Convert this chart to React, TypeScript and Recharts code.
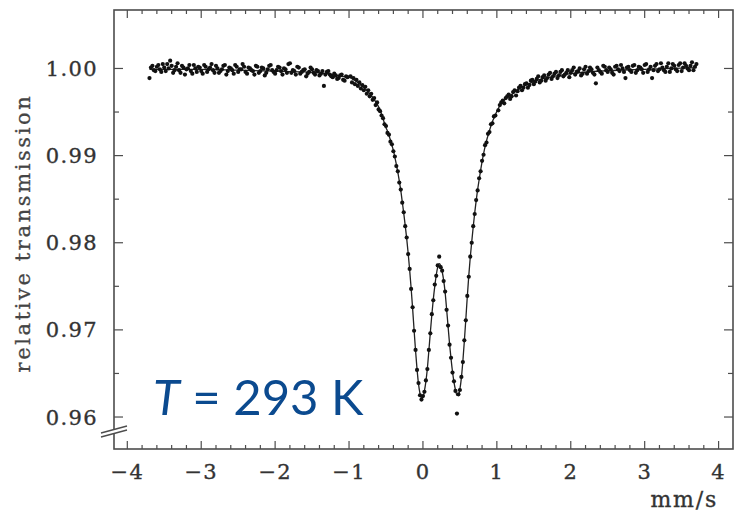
import { ComposedChart, Line, Scatter, XAxis, YAxis } from "recharts";

// Mössbauer doublet, T = 293 K — velocity (mm/s) vs relative transmission

const wingLeft: [number, number][] = [
  [-3.70, 0.9989], [-3.66, 1.0003], [-3.62, 0.9997], [-3.58, 1.0004], [-3.54, 0.9996], [-3.50, 1.0001],
  [-3.46, 1.0005], [-3.42, 1.0009], [-3.38, 0.9995], [-3.34, 1.0002], [-3.30, 0.9998], [-3.26, 1.0003],
  [-3.22, 0.9993], [-3.18, 1.0000], [-3.14, 0.9997], [-3.10, 1.0004], [-3.06, 0.9996], [-3.02, 1.0001],
  [-2.98, 0.9994], [-2.94, 1.0002], [-2.90, 0.9999], [-2.86, 1.0005], [-2.82, 0.9995], [-2.78, 1.0000],
  [-2.74, 0.9997], [-2.70, 1.0003], [-2.66, 0.9993], [-2.62, 1.0001], [-2.58, 0.9998], [-2.54, 1.0004],
  [-2.50, 0.9996], [-2.46, 0.9999], [-2.42, 1.0002], [-2.38, 0.9994], [-2.34, 1.0000], [-2.30, 0.9997],
  [-2.26, 1.0003], [-2.22, 0.9995], [-2.18, 1.0001], [-2.14, 0.9992], [-2.10, 0.9999], [-2.06, 1.0004],
  [-2.02, 0.9996], [-1.98, 0.9998], [-1.94, 1.0001], [-1.90, 0.9993], [-1.86, 0.9999], [-1.82, 1.0005],
  [-1.78, 0.9995], [-1.74, 0.9997], [-1.70, 1.0002], [-1.66, 0.9994], [-1.62, 0.9998], [-1.58, 0.9991],
  [-1.54, 0.9996], [-1.50, 0.9999], [-1.46, 0.9993], [-1.42, 0.9997], [-1.38, 0.9994], [-1.34, 0.9980],
  [-1.30, 0.9996], [-1.26, 0.9993], [-1.22, 0.9990], [-1.18, 0.9992], [-1.14, 0.9989], [-1.10, 0.9993],
  [-1.06, 0.9986], [-1.02, 0.9990],
];

// second half of the channels on the left wing
const wingLeftB: [number, number][] = [
  [-3.68, 1.0001], [-3.64, 0.9998], [-3.60, 1.0002], [-3.56, 0.9999], [-3.52, 1.0005], [-3.48, 0.9997],
  [-3.44, 1.0000], [-3.40, 1.0003], [-3.36, 0.9998], [-3.32, 1.0006], [-3.28, 0.9995], [-3.24, 1.0001],
  [-3.20, 0.9999], [-3.16, 1.0004], [-3.12, 0.9994], [-3.08, 1.0000], [-3.04, 1.0002], [-3.00, 0.9997],
  [-2.96, 1.0004], [-2.92, 0.9996], [-2.88, 1.0001], [-2.84, 0.9998], [-2.80, 1.0003], [-2.76, 0.9995],
  [-2.72, 0.9999], [-2.68, 1.0004], [-2.64, 0.9997], [-2.60, 1.0000], [-2.56, 0.9994], [-2.52, 1.0002],
  [-2.48, 0.9999], [-2.44, 1.0005], [-2.40, 0.9996], [-2.36, 1.0001], [-2.32, 0.9998], [-2.28, 0.9993],
  [-2.24, 1.0002], [-2.20, 0.9997], [-2.16, 1.0000], [-2.12, 0.9995], [-2.08, 1.0003], [-2.04, 0.9998],
  [-2.00, 0.9994], [-1.96, 1.0002], [-1.92, 0.9997], [-1.88, 1.0000], [-1.84, 0.9995], [-1.80, 1.0006],
  [-1.76, 0.9998], [-1.72, 0.9993], [-1.68, 1.0001], [-1.64, 0.9996], [-1.60, 0.9999], [-1.56, 0.9994],
  [-1.52, 1.0001], [-1.48, 0.9995], [-1.44, 0.9998], [-1.40, 0.9992], [-1.36, 0.9997], [-1.32, 0.9993],
  [-1.28, 0.9997], [-1.24, 0.9991], [-1.20, 0.9994], [-1.16, 0.9988], [-1.12, 0.9992], [-1.08, 0.9987],
  [-1.04, 0.9991],
];

const dipPoints: [number, number][] = [
  [-0.98, 0.9991], [-0.96, 0.9984], [-0.94, 0.9989], [-0.92, 0.9982], [-0.90, 0.9987], [-0.88, 0.9980],
  [-0.86, 0.9984], [-0.84, 0.9977], [-0.82, 0.9981], [-0.80, 0.9975], [-0.78, 0.9979], [-0.76, 0.9971],
  [-0.74, 0.9975], [-0.72, 0.9968], [-0.70, 0.9971], [-0.68, 0.9964], [-0.66, 0.9966], [-0.64, 0.9958],
  [-0.62, 0.9961], [-0.60, 0.9953], [-0.58, 0.9951], [-0.56, 0.9946], [-0.54, 0.9943], [-0.52, 0.9936],
  [-0.50, 0.9934], [-0.48, 0.9926], [-0.46, 0.9924], [-0.44, 0.9916], [-0.42, 0.9913], [-0.40, 0.9905],
  [-0.38, 0.9899], [-0.36, 0.9888], [-0.34, 0.9882], [-0.32, 0.9869], [-0.30, 0.9861], [-0.28, 0.9846],
  [-0.26, 0.9835], [-0.24, 0.9819], [-0.22, 0.9806], [-0.20, 0.9787], [-0.18, 0.9770], [-0.16, 0.9747],
  [-0.14, 0.9726], [-0.12, 0.9699], [-0.10, 0.9677], [-0.08, 0.9654], [-0.06, 0.9639], [-0.04, 0.9625],
  [-0.02, 0.9620], [0.00, 0.9624], [0.02, 0.9629], [0.04, 0.9642], [0.06, 0.9655], [0.08, 0.9677],
  [0.10, 0.9696], [0.12, 0.9718], [0.14, 0.9734], [0.16, 0.9752], [0.18, 0.9762], [0.20, 0.9774],
  [0.22, 0.9784], [0.24, 0.9772], [0.26, 0.9768], [0.28, 0.9756], [0.30, 0.9744], [0.32, 0.9723],
  [0.34, 0.9705], [0.36, 0.9683], [0.38, 0.9668], [0.40, 0.9651], [0.42, 0.9641], [0.44, 0.9630],
  [0.46, 0.9604], [0.48, 0.9626], [0.50, 0.9631], [0.52, 0.9646], [0.54, 0.9663], [0.56, 0.9688],
  [0.58, 0.9711], [0.60, 0.9739], [0.62, 0.9761], [0.64, 0.9784], [0.66, 0.9800], [0.68, 0.9819],
  [0.70, 0.9833], [0.72, 0.9849], [0.74, 0.9860], [0.76, 0.9874], [0.78, 0.9882], [0.80, 0.9894],
  [0.82, 0.9901], [0.84, 0.9912], [0.86, 0.9915], [0.88, 0.9925], [0.90, 0.9927], [0.92, 0.9936],
  [0.94, 0.9937], [0.96, 0.9945], [0.98, 0.9946],
];

const wingRight: [number, number][] = [
  [1.02, 0.9952], [1.06, 0.9961], [1.10, 0.9960], [1.14, 0.9968], [1.18, 0.9965], [1.22, 0.9973],
  [1.26, 0.9969], [1.30, 0.9978], [1.34, 0.9975], [1.38, 0.9982], [1.42, 0.9978], [1.46, 0.9986],
  [1.50, 0.9982], [1.54, 0.9988], [1.58, 0.9984], [1.62, 0.9990], [1.66, 0.9986], [1.70, 0.9993],
  [1.74, 0.9988], [1.78, 0.9994], [1.82, 0.9989], [1.86, 0.9996], [1.90, 0.9991], [1.94, 0.9995],
  [1.98, 0.9990], [2.02, 0.9998], [2.06, 0.9993], [2.10, 0.9997], [2.14, 0.9992], [2.18, 0.9999],
  [2.22, 0.9994], [2.26, 1.0001], [2.30, 0.9995], [2.34, 0.9983], [2.38, 0.9998], [2.42, 0.9994],
  [2.46, 1.0002], [2.50, 0.9996], [2.54, 0.9999], [2.58, 0.9993], [2.62, 1.0003], [2.66, 0.9997],
  [2.70, 1.0000], [2.74, 0.9989], [2.78, 1.0002], [2.82, 0.9996], [2.86, 1.0004], [2.90, 0.9998],
  [2.94, 1.0001], [2.98, 0.9995], [3.02, 1.0005], [3.06, 0.9999], [3.10, 0.9989], [3.14, 1.0003],
  [3.18, 0.9997], [3.22, 1.0006], [3.26, 0.9998], [3.30, 1.0002], [3.34, 0.9996], [3.38, 1.0005],
  [3.42, 0.9999], [3.46, 1.0004], [3.50, 0.9997], [3.54, 1.0006], [3.58, 1.0000], [3.62, 1.0003],
  [3.66, 0.9998], [3.70, 1.0005],
];

// second half of the channels on the right wing
const wingRightB: [number, number][] = [
  [1.04, 0.9958], [1.08, 0.9963], [1.12, 0.9966], [1.16, 0.9970], [1.20, 0.9968], [1.24, 0.9975],
  [1.28, 0.9974], [1.32, 0.9980], [1.36, 0.9978], [1.40, 0.9983], [1.44, 0.9981], [1.48, 0.9987],
  [1.52, 0.9985], [1.56, 0.9991], [1.60, 0.9986], [1.64, 0.9992], [1.68, 0.9989], [1.72, 0.9995],
  [1.76, 0.9991], [1.80, 0.9996], [1.84, 0.9992], [1.88, 0.9998], [1.92, 0.9993], [1.96, 0.9998],
  [2.00, 0.9995], [2.04, 1.0001], [2.08, 0.9996], [2.12, 1.0000], [2.16, 0.9994], [2.20, 1.0002],
  [2.24, 0.9997], [2.28, 0.9999], [2.32, 0.9993], [2.36, 1.0001], [2.40, 0.9996], [2.44, 1.0003],
  [2.48, 0.9998], [2.52, 1.0001], [2.56, 0.9995], [2.60, 1.0002], [2.64, 0.9999], [2.68, 1.0004],
  [2.72, 0.9996], [2.76, 1.0001], [2.80, 0.9998], [2.84, 1.0003], [2.88, 0.9995], [2.92, 1.0002],
  [2.96, 0.9999], [3.00, 1.0004], [3.04, 0.9996], [3.08, 1.0002], [3.12, 0.9998], [3.16, 1.0005],
  [3.20, 0.9999], [3.24, 1.0001], [3.28, 0.9996], [3.32, 1.0006], [3.36, 1.0000], [3.40, 1.0003],
  [3.44, 0.9997], [3.48, 1.0006], [3.52, 1.0001], [3.56, 1.0003], [3.60, 0.9998], [3.64, 1.0007],
  [3.68, 1.0002],
];

const fitCurve: [number, number][] = [
  [-3.70, 0.9999], [-3.00, 0.9999], [-2.50, 0.9998], [-2.00, 0.9997], [-1.60, 0.9996], [-1.30, 0.9994],
  [-1.10, 0.9991], [-1.00, 0.9990], [-0.95, 0.9988], [-0.90, 0.9985], [-0.85, 0.9982], [-0.80, 0.9978],
  [-0.75, 0.9974], [-0.70, 0.9969], [-0.65, 0.9963], [-0.60, 0.9956], [-0.55, 0.9945], [-0.50, 0.9932],
  [-0.48, 0.9928], [-0.46, 0.9923], [-0.44, 0.9918], [-0.42, 0.9912], [-0.40, 0.9906], [-0.38, 0.9898],
  [-0.36, 0.9890], [-0.34, 0.9881], [-0.32, 0.9871], [-0.30, 0.9860], [-0.28, 0.9847], [-0.26, 0.9834],
  [-0.24, 0.9820], [-0.22, 0.9805], [-0.20, 0.9788], [-0.18, 0.9769], [-0.16, 0.9748], [-0.14, 0.9725],
  [-0.12, 0.9700], [-0.10, 0.9676], [-0.08, 0.9655], [-0.06, 0.9638], [-0.04, 0.9627], [-0.02, 0.9622],
  [0.00, 0.9623], [0.02, 0.9630], [0.04, 0.9641], [0.06, 0.9656], [0.08, 0.9676], [0.10, 0.9697],
  [0.12, 0.9717], [0.14, 0.9735], [0.16, 0.9750], [0.18, 0.9763], [0.20, 0.9772], [0.22, 0.9776],
  [0.24, 0.9774], [0.26, 0.9767], [0.28, 0.9757], [0.30, 0.9743], [0.32, 0.9724], [0.34, 0.9704],
  [0.36, 0.9684], [0.38, 0.9667], [0.40, 0.9652], [0.42, 0.9640], [0.44, 0.9631], [0.46, 0.9625],
  [0.48, 0.9625], [0.50, 0.9632], [0.52, 0.9645], [0.54, 0.9664], [0.56, 0.9687], [0.58, 0.9712],
  [0.60, 0.9738], [0.62, 0.9762], [0.64, 0.9783], [0.66, 0.9801], [0.68, 0.9818], [0.70, 0.9834],
  [0.72, 0.9848], [0.74, 0.9861], [0.76, 0.9872], [0.78, 0.9883], [0.80, 0.9893], [0.82, 0.9902],
  [0.84, 0.9910], [0.86, 0.9917], [0.88, 0.9923], [0.90, 0.9929], [0.92, 0.9934], [0.94, 0.9939],
  [0.96, 0.9943], [0.98, 0.9947], [1.00, 0.9951], [1.08, 0.9962], [1.20, 0.9970], [1.31, 0.9977],
  [1.50, 0.9985], [1.72, 0.9990], [2.00, 0.9994], [2.40, 0.9997], [3.00, 0.9999], [3.70, 1.0001],
];

const xTicks = [
  -4, -3.8, -3.6, -3.4, -3.2, -3, -2.8, -2.6, -2.4, -2.2, -2, -1.8, -1.6, -1.4, -1.2, -1, -0.8, -0.6, -0.4, -0.2,
  0, 0.2, 0.4, 0.6, 0.8, 1, 1.2, 1.4, 1.6, 1.8, 2, 2.2, 2.4, 2.6, 2.8, 3, 3.2, 3.4, 3.6, 3.8, 4,
];
const yTicks = [0.96, 0.965, 0.97, 0.975, 0.98, 0.985, 0.99, 0.995, 1.0];

const PLOT_W = 619;
const PLOT_H = 439;
const AXIS = "#4d4d4d";
const SERIF = "'DejaVu Serif', serif";
const INK = "#333";

const toRows = (arr: [number, number][]) => arr.map(([v, t]) => ({ v, t }));
const points = toRows([...wingLeft, ...wingLeftB, ...dipPoints, ...wingRight, ...wingRightB]);
const fit = toRows(fitCurve);

function XTick({ x, y, payload }: any) {
  const v = payload.value as number;
  const major = Number.isInteger(v);
  const len = major ? 8 : 4;
  return (
    <g>
      <line x1={x} y1={y} x2={x} y2={y - len} stroke={AXIS} strokeWidth={1.2} />
      <line x1={x} y1={y - PLOT_H} x2={x} y2={y - PLOT_H + len} stroke={AXIS} strokeWidth={1.2} />
      {major && (
        <text x={x} y={y + 30} textAnchor="middle" fontFamily={SERIF} fontSize={21} fill={INK}
          stroke={INK} strokeWidth={0.35} letterSpacing={1.2}>
          {v < 0 ? `\u2212${-v}` : `${v}`}
        </text>
      )}
    </g>
  );
}

function YTick({ x, y, payload }: any) {
  const v = payload.value as number;
  const major = Math.abs(v * 100 - Math.round(v * 100)) < 1e-6;
  const len = major ? 9 : 5;
  return (
    <g>
      <line x1={x} y1={y} x2={x + len} y2={y} stroke={AXIS} strokeWidth={1.2} />
      <line x1={x + PLOT_W} y1={y} x2={x + PLOT_W - len} y2={y} stroke={AXIS} strokeWidth={1.2} />
      {major && (
        <text x={x - 16} y={y + 7.5} textAnchor="end" fontFamily={SERIF} fontSize={21} fill={INK}
          stroke={INK} strokeWidth={0.35} letterSpacing={1.4}>
          {v.toFixed(2)}
        </text>
      )}
    </g>
  );
}

const Dot = (props: any) => <circle cx={props.cx} cy={props.cy} r={2.1} fill="#111" />;

export default function App() {
  return (
    <div style={{ position: "absolute", left: 0, top: 0, width: 736, height: 517, background: "#fff" }}>
      <ComposedChart width={736} height={517} margin={{ top: 10, right: 3, bottom: 0, left: 0 }}>
        <XAxis
          type="number"
          dataKey="v"
          domain={[-4.18, 4.195]}
          ticks={xTicks}
          interval={0}
          allowDataOverflow
          height={68}
          tickSize={0}
          tickMargin={0}
          axisLine={false}
          tickLine={false}
          tick={<XTick />}
        />
        <YAxis
          type="number"
          domain={[0.95633, 1.00671]}
          ticks={yTicks}
          interval={0}
          allowDataOverflow
          width={114}
          tickSize={0}
          tickMargin={0}
          axisLine={false}
          tickLine={false}
          tick={<YTick />}
        />
        <Line data={fit} dataKey="t" type="monotone" stroke="#222" strokeWidth={1.3} dot={false} isAnimationActive={false} />
        <Scatter data={points} dataKey="t" shape={Dot} isAnimationActive={false} />
      </ComposedChart>

      <svg width={736} height={517} style={{ position: "absolute", left: 0, top: 0, pointerEvents: "none" }}>
        <rect x={114} y={10} width={PLOT_W} height={PLOT_H} fill="none" stroke={AXIS} strokeWidth={1.6} />
        {/* axis break */}
        <polygon points="101,433 127,426 127,430 101,437" fill="#fff" />
        <line x1={101} y1={433} x2={127} y2={426} stroke={AXIS} strokeWidth={1.3} />
        <line x1={101} y1={437} x2={127} y2={430} stroke={AXIS} strokeWidth={1.3} />
        <text
          x={23}
          y={233}
          transform="rotate(-90, 23, 233)"
          textAnchor="middle"
          dominantBaseline="central"
          fontFamily={SERIF}
          fontSize={21}
          letterSpacing={2.6}
          fill="#444"
          stroke="#444"
          strokeWidth={0.3}
        >
          relative transmission
        </text>
        <text x={718} y={507} textAnchor="end" fontFamily={SERIF} fontSize={22} letterSpacing={1.8}
          fill={INK} stroke={INK} strokeWidth={0.35}>
          mm/s
        </text>
        <text x={153} y={415} fontFamily="Lato, 'Open Sans', sans-serif" fontSize={49} fill="#0b4a8f">
          <tspan fontStyle="italic">T</tspan> = 293 K
        </text>
      </svg>
    </div>
  );
}
